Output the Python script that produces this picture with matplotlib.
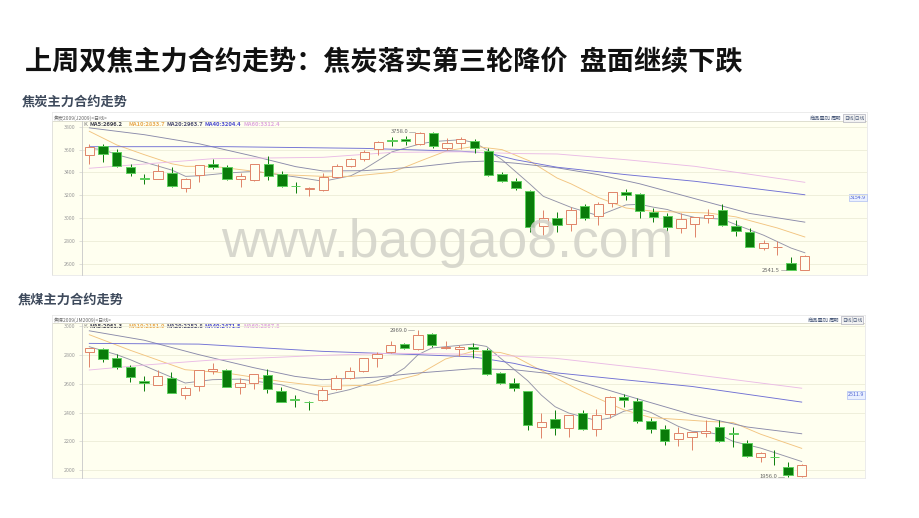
import matplotlib
matplotlib.use("Agg")
import matplotlib.pyplot as plt
from matplotlib.patches import Rectangle

plt.rcParams['font.family'] = ['Noto Sans CJK SC', 'DejaVu Sans']

W, H = 920, 518

# ---------------- 焦炭 daily candles ----------------
coke_open = [3552, 3631, 3581, 3450, 3353, 3345, 3397, 3260, 3377, 3473, 3447, 3342, 3336, 3473,
             3388, 3282, 3254, 3245, 3362, 3458, 3514, 3601, 3686, 3692, 3648, 3745, 3610, 3660,
             3674, 3590, 3382, 3327, 3236, 2927, 2997, 2944, 3102, 3017, 3128, 3225, 3207, 3055,
             3017, 2909, 2947, 2997, 3067, 2933, 2877, 2740, 2743, 2608, 2545]
coke_close = [3625, 3561, 3455, 3394, 3345, 3415, 3283, 3342, 3467, 3447, 3339, 3365, 3473, 3371,
              3280, 3280, 3260, 3356, 3458, 3514, 3581, 3669, 3672, 3672, 3747, 3628, 3654, 3695,
              3610, 3377, 3324, 3266, 2918, 2997, 2939, 3067, 2997, 3123, 3225, 3201, 3061, 3009,
              2924, 2988, 3012, 3026, 2939, 2889, 2749, 2784, 2749, 2544, 2670]
coke_high = [3645, 3645, 3601, 3476, 3382, 3470, 3447, 3353, 3467, 3517, 3464, 3391, 3473, 3543,
             3415, 3312, 3274, 3391, 3470, 3528, 3596, 3674, 3707, 3715, 3758, 3750, 3704, 3709,
             3689, 3610, 3406, 3353, 3242, 3070, 3050, 3096, 3123, 3143, 3231, 3251, 3222, 3085,
             3041, 3041, 3012, 3076, 3125, 2983, 2915, 2807, 2798, 2661, 2676]
coke_low = [3470, 3493, 3450, 3365, 3295, 3345, 3274, 3230, 3312, 3429, 3333, 3274, 3324, 3333,
            3274, 3216, 3193, 3236, 3356, 3444, 3502, 3552, 3631, 3639, 3636, 3616, 3596, 3601,
            3566, 3371, 3318, 3245, 2874, 2851, 2880, 2886, 2982, 2939, 3099, 3158, 3003, 2968,
            2886, 2866, 2831, 2953, 2933, 2845, 2749, 2719, 2676, 2541.5, 2541.5]

# moving averages, sampled at candle index
coke_ma5_i = [0, 1, 2, 4, 6, 7, 8, 10, 12, 15, 17, 19, 20, 22, 24, 25, 27, 28, 29, 30, 32, 33,
              35, 37, 39, 40, 41, 42, 43, 44, 46, 47, 49, 51, 52]
coke_ma5 = [3610, 3600, 3555, 3490, 3420, 3365, 3370, 3394, 3409, 3360, 3322, 3370, 3430, 3580,
            3648, 3670, 3686, 3660, 3590, 3510, 3300, 3190, 3094, 3020, 3115, 3120, 3095, 3075,
            3035, 3005, 2990, 2942, 2850, 2737, 2696]
coke_ma10_i = [0, 2, 4, 6, 7, 9, 14, 17, 19, 22, 24, 26, 28, 30, 32, 34, 35, 37, 39, 41, 45, 47, 50, 52]
coke_ma10 = [3760, 3640, 3555, 3475, 3453, 3453, 3380, 3365, 3365, 3400, 3497, 3590, 3628, 3599,
             3500, 3350, 3300, 3180, 3088, 3059, 3044, 3010, 2913, 2834]
coke_ma20_i = [0, 4, 8, 12, 15, 17, 20, 24, 27, 29, 31, 34, 37, 40, 44, 48, 52]
coke_ma20 = [3790, 3730, 3650, 3540, 3450, 3412, 3415, 3450, 3490, 3500, 3480, 3440, 3380, 3300,
             3170, 3040, 2964]
coke_ma40_i = [0, 10, 20, 27, 29, 31, 34, 39, 44, 52]
coke_ma40 = [3625, 3625, 3610, 3585, 3570, 3510, 3445, 3380, 3322, 3204]
coke_ma60_i = [0, 4, 9, 17, 22, 27, 31, 34, 39, 44, 52]
coke_ma60 = [3436, 3473, 3520, 3532, 3575, 3580, 3565, 3561, 3511, 3453, 3313]
coke_ticks = [2600, 2800, 3000, 3200, 3400, 3600, 3800]
coke_legend = ['MA5:2696.2', 'MA10:2833.7', 'MA20:2963.7', 'MA40:3204.4', 'MA60:3312.4']

# ---------------- 焦煤 daily candles ----------------
cc_open = [2820, 2836, 2779, 2717, 2618, 2590, 2641, 2518, 2585, 2689, 2694, 2574, 2601, 2659,
           2551, 2493, 2475, 2486, 2560, 2636, 2687, 2774, 2816, 2871, 2836, 2940, 2843, 2840,
           2855, 2832, 2671, 2601, 2548, 2302, 2353, 2290, 2399, 2283, 2389, 2509, 2482, 2341,
           2286, 2214, 2228, 2256, 2297, 2260, 2191, 2090, 2095, 2025, 1960]
cc_close = [2843, 2770, 2717, 2643, 2606, 2654, 2537, 2567, 2691, 2703, 2578, 2606, 2664, 2560,
            2475, 2486, 2470, 2555, 2636, 2687, 2774, 2804, 2866, 2848, 2935, 2866, 2855, 2850,
            2836, 2664, 2601, 2571, 2313, 2336, 2290, 2383, 2283, 2383, 2509, 2486, 2341, 2283,
            2205, 2256, 2267, 2274, 2203, 2251, 2101, 2118, 2092, 1968, 2037]
cc_high = [2843, 2843, 2802, 2728, 2654, 2694, 2680, 2583, 2691, 2740, 2698, 2636, 2664, 2698,
           2574, 2518, 2479, 2574, 2659, 2717, 2774, 2816, 2896, 2882, 2969, 2947, 2894, 2870,
           2878, 2843, 2682, 2636, 2548, 2394, 2417, 2383, 2417, 2422, 2514, 2525, 2498, 2359,
           2313, 2302, 2267, 2348, 2348, 2297, 2210, 2129, 2141, 2060, 2042]
cc_low = [2717, 2751, 2698, 2613, 2551, 2590, 2532, 2491, 2551, 2666, 2574, 2525, 2562, 2537,
          2470, 2440, 2417, 2479, 2555, 2631, 2682, 2712, 2809, 2836, 2832, 2855, 2836, 2790,
          2774, 2659, 2597, 2551, 2279, 2221, 2244, 2228, 2279, 2237, 2359, 2440, 2330, 2256,
          2175, 2168, 2141, 2233, 2198, 2164, 2095, 2055, 2037, 1956, 1956]

cc_ma5_i = [0, 2, 3, 5, 7, 9, 11, 14, 16, 17, 19, 22, 23, 24, 25, 28, 29, 30, 32, 33, 34, 35,
            37, 38, 39, 40, 41, 43, 44, 45, 46, 47, 49, 52]
cc_ma5 = [2855, 2800, 2765, 2684, 2604, 2627, 2631, 2592, 2535, 2515, 2558, 2650, 2707, 2800,
          2846, 2873, 2857, 2777, 2620, 2520, 2440, 2396, 2345, 2362, 2408, 2431, 2400, 2304,
          2270, 2265, 2247, 2200, 2154, 2061]
cc_ma10_i = [0, 3, 7, 10, 14, 17, 21, 24, 26, 28, 30, 31, 34, 36, 39, 41, 45, 47, 49, 52]
cc_ma10 = [2938, 2830, 2696, 2673, 2615, 2581, 2590, 2661, 2770, 2823, 2815, 2790, 2640, 2545,
           2419, 2365, 2339, 2330, 2250, 2152]
cc_ma20_i = [0, 4, 8, 12, 15, 17, 21, 24, 28, 31, 34, 39, 44, 48, 52]
cc_ma20 = [2965, 2900, 2800, 2710, 2650, 2627, 2645, 2673, 2703, 2696, 2665, 2523, 2385, 2300, 2253]
cc_ma40_i = [0, 8, 17, 24, 28, 31, 34, 39, 44, 52]
cc_ma40 = [2878, 2873, 2823, 2800, 2785, 2740, 2675, 2627, 2580, 2472]
cc_ma60_i = [0, 4, 9, 17, 22, 27, 31, 34, 41, 52]
cc_ma60 = [2694, 2728, 2763, 2795, 2810, 2804, 2790, 2775, 2700, 2568]
cc_ticks = [2000, 2200, 2400, 2600, 2800, 3000]
cc_legend = ['MA5:2061.3', 'MA10:2151.9', 'MA20:2252.8', 'MA40:2471.5', 'MA60:2567.8']

MA_COLORS = ['#9494a8', '#f2c480', '#8a8aaa', '#7070d4', '#eabbe6']
LEGEND_COLORS = ['#3a3a4a', '#e8a850', '#4a4a70', '#4a4ad0', '#e0a8e0']
UP = '#e08468'
DOWN = '#0a7c0a'
DOWN_EDGE = '#5ed05e'
BG = '#fffff0'


def box(x0, y0, x1, y1):
    return [x0 / W, 1 - y1 / H, (x1 - x0) / W, (y1 - y0) / H]


def draw_chart(frame, head_y, plot, ylim, step, o, h, l, c, ticks, mas, legend,
               title, side_val, side_y):
    fx0, fy0, fx1, fy1 = frame
    # outer panel: white header strip + cream chart area
    fr = fig.add_axes(box(fx0, fy0, fx1, fy1))
    fr.set_xlim(fx0, fx1)
    fr.set_ylim(fy1, fy0)
    fr.set_facecolor('white')
    fr.add_patch(Rectangle((fx0, head_y), fx1 - fx0, fy1 - head_y, facecolor=BG,
                           edgecolor='#d9d9c9', lw=0.6))
    fr.set_xticks([])
    fr.set_yticks([])
    for s in fr.spines.values():
        s.set_color('#e4e4e4')
        s.set_linewidth(0.5)
    fr.text(fx0 + 2, head_y - 3, title, fontsize=3.6, color='#6a6a6a', va='center')
    fr.text(fx1 - 57, head_y - 3, '商品叠加', fontsize=3.8, color='#4a5a7a', va='center')
    fr.text(fx1 - 36, head_y - 3, '周期', fontsize=3.8, color='#4a5a7a', va='center')
    fr.text(fx1 - 13, head_y - 3, '日线|日线', fontsize=3.4, color='#4a5a7a', va='center',
            ha='center', bbox=dict(boxstyle='square,pad=0.15', fc='#f2f2f2', ec='#a0a0b0', lw=0.4))
    fr.text(fx0 + 31, head_y + 3, 'K', fontsize=4.2, color='#777777', va='center')
    for k, txt in enumerate(legend):
        fr.text(fx0 + 38 + 38.3 * k, head_y + 3, txt, fontsize=4.2, color=LEGEND_COLORS[k],
                va='center', fontweight='bold')
    fr.text(fx1 - 1, side_y, side_val, fontsize=3.8, color='#4a60d0', va='center', ha='right',
            bbox=dict(boxstyle='square,pad=0.2', fc='#eaf0ff', ec='#9db0f0', lw=0.4))

    # price area
    px0, py0, px1, py1 = plot
    ax = fig.add_axes(box(px0, py0, px1, py1))
    ax.set_facecolor('none')
    x_first = 89.3
    ax.set_xlim((px0 - x_first) / step, (px1 - x_first) / step)
    ax.set_ylim(*ylim)
    for s in ['top', 'right', 'bottom']:
        ax.spines[s].set_visible(False)
    ax.spines['left'].set_color('#c8c8c8')
    ax.spines['left'].set_linewidth(0.6)
    ax.set_xticks([])
    ax.set_yticks(ticks)
    ax.set_yticklabels([str(t) for t in ticks])
    ax.tick_params(axis='y', labelsize=3.8, labelcolor='#9a9a9a', length=2, width=0.4,
                   color='#c8c8c8', pad=3)
    ax.yaxis.grid(True, color='#ececd8', lw=0.6)
    ax.set_axisbelow(True)

    for (idx, vals), col in zip(mas, MA_COLORS):
        ax.plot(idx, vals, color=col, lw=0.65, zorder=2)

    w = 0.68
    for i in range(len(o)):
        up = c[i] >= o[i]
        col = UP if up else DOWN
        ax.vlines(i, l[i], h[i], color=col, lw=0.7, zorder=3)
        bottom = min(o[i], c[i])
        height = max(abs(c[i] - o[i]), 3)
        ax.add_patch(Rectangle((i - w / 2, bottom), w, height, zorder=4,
                               facecolor=BG if up else DOWN,
                               edgecolor=UP if up else DOWN_EDGE, lw=0.7))

    ih = max(range(len(h)), key=lambda k: h[k])
    il = min(range(len(l)), key=lambda k: l[k])
    ax.plot([ih - 0.75, ih - 0.3], [h[ih], h[ih]], color='#888888', lw=0.4, zorder=5)
    ax.text(ih - 0.8, h[ih], f'{h[ih]:.1f}', fontsize=4.2, color='#666666', ha='right',
            va='center', zorder=5)
    ax.plot([il - 0.75, il - 0.3], [l[il], l[il]], color='#888888', lw=0.4, zorder=5)
    ax.text(il - 0.8, l[il], f'{l[il]:.1f}', fontsize=4.2, color='#666666', ha='right',
            va='center', zorder=5)
    return ax


fig = plt.figure(figsize=(9.2, 5.18), dpi=100)
fig.patch.set_facecolor('white')

fig.text(25 / W, 1 - 62 / H, '上周双焦主力合约走势：焦炭落实第三轮降价  盘面继续下跌',
         fontsize=19.5, fontweight='bold', color='#111111', va='center', ha='left')
fig.text(22 / W, 1 - 102 / H, '焦炭主力合约走势', fontsize=9.5, fontweight='bold',
         color='#3e4a5c', va='center', ha='left')
fig.text(18 / W, 1 - 300 / H, '焦煤主力合约走势', fontsize=9.5, fontweight='bold',
         color='#3e4a5c', va='center', ha='left')

coke_mas = [(coke_ma5_i, coke_ma5), (coke_ma10_i, coke_ma10), (coke_ma20_i, coke_ma20),
            (coke_ma40_i, coke_ma40), (coke_ma60_i, coke_ma60)]
draw_chart((52, 112, 867, 275), 121, (82, 121, 867, 275), (2501, 3850), 13.76,
           coke_open, coke_high, coke_low, coke_close, coke_ticks, coke_mas, coke_legend,
           '焦炭2009(J2009)<日线>', '3154.9', 197.5)

cc_mas = [(cc_ma5_i, cc_ma5), (cc_ma10_i, cc_ma10), (cc_ma20_i, cc_ma20),
          (cc_ma40_i, cc_ma40), (cc_ma60_i, cc_ma60)]
draw_chart((52, 315, 865, 478), 323, (82, 323, 865, 478), (1947, 3019), 13.7,
           cc_open, cc_high, cc_low, cc_close, cc_ticks, cc_mas, cc_legend,
           '焦煤2009(JM2009)<日线>', '2511.9', 395)

fig.text(447 / W, 1 - 243 / H, 'www.baogao8.com', fontsize=38.5, color='#d2d2c8',
         family='Liberation Sans', ha='center', va='center', alpha=0.85)

fig.savefig('out.png', dpi=100)
